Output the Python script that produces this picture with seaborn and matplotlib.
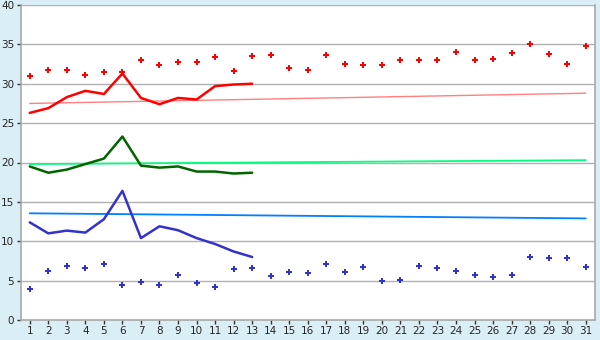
import matplotlib
matplotlib.use("Agg")
import matplotlib.pyplot as plt
import seaborn as sns
import pandas as pd

days = list(range(1, 32))
line_days = list(range(1, 14))

max_dots = [31.0, 31.7, 31.7, 31.1, 31.5, 31.5, 33.0, 32.4, 32.7, 32.7,
            33.4, 31.6, 33.5, 33.6, 32.0, 31.7, 33.6, 32.5, 32.4, 32.4,
            33.0, 33.0, 33.0, 34.0, 33.0, 33.1, 33.9, 35.0, 33.8, 32.5, 34.8]
min_dots = [3.9, 6.2, 6.8, 6.6, 7.1, 4.4, 4.8, 4.5, 5.7, 4.7,
            4.15, 6.45, 6.6, 5.55, 6.05, 5.95, 7.1, 6.05, 6.7, 4.9,
            5.05, 6.8, 6.6, 6.2, 5.7, 5.45, 5.7, 8.0, 7.85, 7.85, 6.7]
max_line = [26.3, 26.9, 28.3, 29.1, 28.7, 31.3, 28.2, 27.4, 28.2, 28.0, 29.7, 29.9, 30.0]
mean_line = [19.5, 18.7, 19.1, 19.8, 20.5, 23.3, 19.6, 19.35, 19.5, 18.85, 18.85, 18.6, 18.7]
min_line = [12.4, 11.0, 11.35, 11.1, 12.8, 16.4, 10.4, 11.9, 11.4, 10.4, 9.65, 8.7, 8.0]

trend_days = [1, 31]
max_trend = [27.5, 28.8]
mean_trend = [19.8, 20.3]
min_trend = [13.55, 12.9]

yticks = [0, 5, 10, 15, 20, 25, 30, 35, 40]

sns.set_style("white")
plt.rcParams['font.family'] = ['DejaVu Sans']

fig = plt.figure(figsize=(6.0, 3.4), dpi=100)
fig.patch.set_facecolor("#DAEEF5")
ax = fig.add_axes([20.5 / 600, 20 / 340, (595 - 20.5) / 600, 315 / 340])
ax.set_facecolor("white")

for y in yticks[1:]:
    ax.axhline(y, color="#B0B0B0", lw=1.0, zorder=0)

df_line = pd.DataFrame({"day": line_days, "max": max_line, "mean": mean_line, "min": min_line})
df_dots = pd.DataFrame({"day": days, "max": max_dots, "min": min_dots})
df_trend = pd.DataFrame({"day": trend_days, "max": max_trend, "mean": mean_trend, "min": min_trend})

sns.lineplot(data=df_trend, x="day", y="max", color="#FF8080", lw=1.0, ax=ax)
sns.lineplot(data=df_trend, x="day", y="mean", color="#00FF80", lw=1.3, ax=ax)
sns.lineplot(data=df_trend, x="day", y="min", color="#0080FF", lw=1.3, ax=ax)

sns.lineplot(data=df_line, x="day", y="max", color="#FF0000", lw=1.8, ax=ax)
sns.lineplot(data=df_line, x="day", y="mean", color="#006400", lw=1.8, ax=ax)
sns.lineplot(data=df_line, x="day", y="min", color="#3333CC", lw=1.8, ax=ax)

sns.scatterplot(data=df_dots, x="day", y="max", color="#FF0000", marker="P", s=20,
                linewidth=0, ax=ax, zorder=5)
sns.scatterplot(data=df_dots, x="day", y="min", color="#3333CC", marker="P", s=20,
                linewidth=0, ax=ax, zorder=5)

ax.set_xlim(0.5, 31.5)
ax.set_ylim(0, 40)
ax.set_xticks(days)
ax.set_xticklabels([str(d) for d in days])
ax.set_yticks(yticks)
ax.set_yticklabels([str(v) for v in yticks])
ax.set_xlabel("")
ax.set_ylabel("")
ax.tick_params(axis="both", labelsize=7.5, length=3, width=1, color="#333333",
               direction="out", pad=1.5, bottom=True, left=True)
for side in ["left", "bottom", "right"]:
    ax.spines[side].set_color("#A8A8A8")
    ax.spines[side].set_linewidth(1.2)
ax.spines["top"].set_visible(False)

fig.savefig("out.png", dpi=100, facecolor=fig.get_facecolor())
